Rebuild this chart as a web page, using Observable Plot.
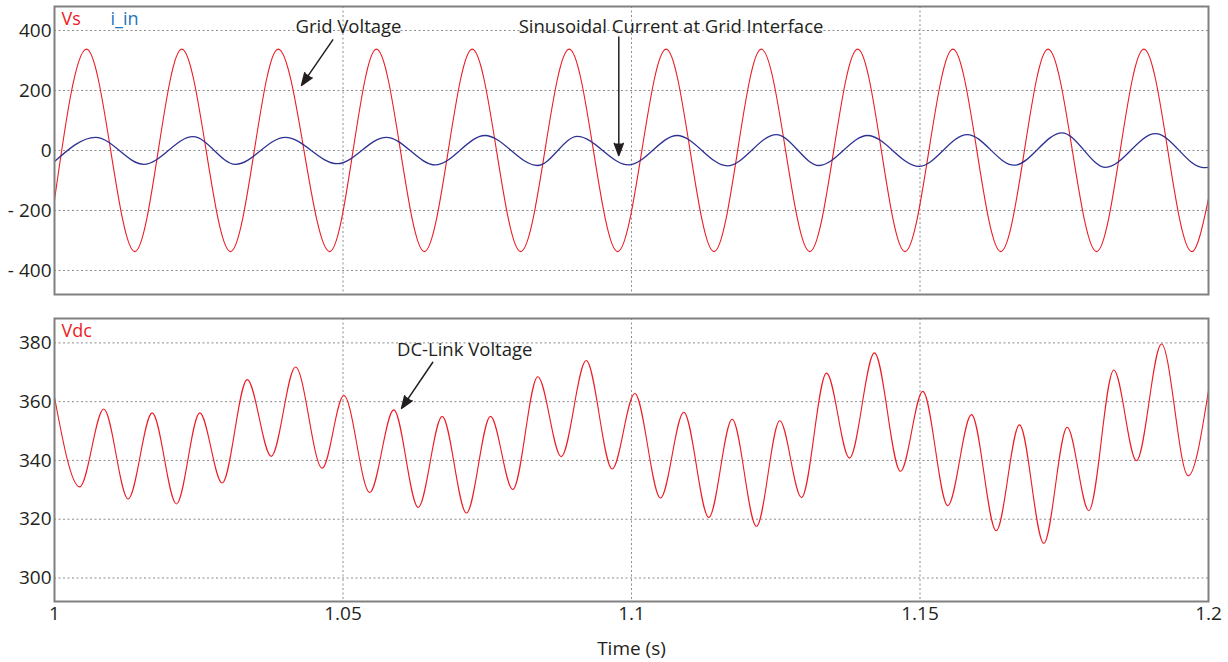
<!DOCTYPE html>
<html>
<head>
<meta charset="utf-8">
<script src="https://cdn.jsdelivr.net/npm/d3@7"></script>
<script src="https://cdn.jsdelivr.net/npm/@observablehq/plot@0.6"></script>
<style>
  html, body { margin: 0; padding: 0; background: #fff; }
  #chart { width: 1228px; height: 662px; }
  #chart svg { display: block; }
</style>
</head>
<body>
<div id="chart"></div>
<script>
// ---- tick values / labels ----
const timeTicks = [1, 1.05, 1.1, 1.15, 1.2];
const timeTickLabels = ["1", "1.05", "1.1", "1.15", "1.2"];
const timeGrid = [1.05, 1.1, 1.15];
const vsTicks = [400, 200, 0, -200, -400];
const vsTickLabels = ["400", "200", "0", "- 200", "- 400"];
const vdcTicks = [380, 360, 340, 320, 300];

// ---- Vs (grid voltage) : extrema ----
const vsTime  = [1.0, 1.00555, 1.01392, 1.02206, 1.0305, 1.03877, 1.0477, 1.0558, 1.0641, 1.0724, 1.0808, 1.0892, 1.0976, 1.106, 1.1143, 1.1225, 1.1309, 1.1392, 1.1474, 1.1557, 1.164, 1.1722, 1.1806, 1.1888, 1.1971, 1.2];
const vsValue = [-165, 338, -337, 338, -337, 338, -337, 338, -337, 338, -337, 338, -337, 338, -337, 338, -337, 338, -337, 338, -337, 338, -337, 338, -337, -160];

// ---- i_in (grid current) ----
const iinTime  = [1.0, 1.0071, 1.01548, 1.024, 1.03137, 1.04, 1.049, 1.0575, 1.066, 1.0746, 1.0837, 1.0906, 1.0995, 1.1079, 1.1166, 1.1251, 1.1325, 1.1409, 1.1498, 1.1582, 1.1663, 1.1746, 1.1822, 1.1908, 1.1991, 1.2];
const iinValue = [-37, 44, -46, 46, -46, 44, -44, 44, -48, 50, -50, 47, -48, 50, -51, 53, -50, 50, -53, 53, -49, 59, -56, 56, -57, -56];

// ---- Vdc (DC-link voltage) ----
const vdcTime  = [1.0, 1.00438, 1.00854, 1.01277, 1.01693, 1.02114, 1.02518, 1.02906, 1.0334, 1.03756, 1.04177, 1.0464, 1.05014, 1.05464, 1.0588, 1.06303, 1.06719, 1.0714, 1.07556, 1.07943, 1.08376, 1.08782, 1.09215, 1.09666, 1.10057, 1.10503, 1.10906, 1.1134, 1.11745, 1.12166, 1.1257, 1.12946, 1.1338, 1.13778, 1.14211, 1.14662, 1.15049, 1.15482, 1.15893, 1.16321, 1.16724, 1.17146, 1.17551, 1.17926, 1.18359, 1.18752, 1.19185, 1.19648, 1.2];
const vdcValue = [361.5, 331.0, 357.5, 326.9, 356.2, 325.2, 356.2, 332.3, 367.5, 341.4, 371.8, 337.4, 362.1, 329.1, 357.2, 324.0, 355.0, 322.1, 355.0, 330.1, 368.5, 341.3, 374.0, 337.1, 362.8, 327.2, 356.4, 320.6, 354.0, 317.6, 353.5, 327.4, 369.7, 340.8, 376.6, 336.3, 363.5, 324.6, 355.6, 316.1, 352.1, 311.8, 351.3, 322.9, 370.8, 339.9, 379.6, 334.8, 363.8];

// ---- annotations (data coordinates) ----
const topNoteText = ["Grid Voltage", "Sinusoidal Current at Grid Interface"];
const topNoteT = [1.05095, 1.10685];
const topNoteV = [410, 410];
const topArrowT1 = [1.04823, 1.0978];
const topArrowV1 = [369, 378];
const topArrowT2 = [1.04281, 1.0978];
const topArrowV2 = [217, -17];

const botNoteText = ["DC-Link Voltage"];
const botNoteT = [1.07109];
const botNoteV = [377.7];
const botArrowT1 = [1.06556];
const botArrowV1 = [373.4];
const botArrowT2 = [1.06014];
const botArrowV2 = [357.7];

// ---- build tables ----
const vs = vsTime.map((t, i) => ({t, v: vsValue[i]}));
const iin = iinTime.map((t, i) => ({t, v: iinValue[i]}));
const vdc = vdcTime.map((t, i) => ({t, v: vdcValue[i]}));
const topNotes = topNoteText.map((s, i) => ({s, t: topNoteT[i], v: topNoteV[i]}));
const topArrows = topArrowT1.map((t1, i) => ({t1, v1: topArrowV1[i], t2: topArrowT2[i], v2: topArrowV2[i]}));
const botNotes = botNoteText.map((s, i) => ({s, t: botNoteT[i], v: botNoteV[i]}));
const botArrows = botArrowT1.map((t1, i) => ({t1, v1: botArrowV1[i], t2: botArrowT2[i], v2: botArrowV2[i]}));

const RED = "#ed1c24", BLUE = "#2e3192", LBLUE = "#1c75bc", INK = "#231f20";
const FONT = "'Open Sans', 'Noto Sans', sans-serif";
const gridStyle = {stroke: "#8c8c8c", strokeOpacity: 1, strokeDasharray: "2,2.5", strokeWidth: 1};

const topChart = Plot.plot({
  width: 1228, height: 300,
  marginTop: 6, marginBottom: 6, marginLeft: 54, marginRight: 20,
  style: {fontFamily: FONT, fontSize: "19px", color: INK, background: "white"},
  x: {domain: [1, 1.2], axis: null},
  y: {domain: [-480, 480]},
  marks: [
    Plot.gridX(timeGrid, gridStyle),
    Plot.gridY(vsTicks, gridStyle),
    Plot.axisY(vsTicks, {tickSize: 0, tickPadding: 3, label: null, tickFormat: (d) => vsTickLabels[vsTicks.indexOf(d)], fill: INK, fontSize: 19}),
    Plot.line(vs, {x: "t", y: "v", stroke: RED, strokeWidth: 1.1, curve: "monotone-x"}),
    Plot.line(iin, {x: "t", y: "v", stroke: BLUE, strokeWidth: 1.3, curve: "monotone-x"}),
    Plot.frame({stroke: "#808080", strokeWidth: 2}),
    Plot.text(["Vs"], {frameAnchor: "top-left", dx: 7, dy: 5.5, fill: RED, fontSize: 18}),
    Plot.text(["i_in"], {frameAnchor: "top-left", dx: 56, dy: 5.5, fill: LBLUE, fontSize: 18}),
    Plot.text(topNotes, {x: "t", y: "v", text: "s", fill: INK, fontSize: 18.5}),
    Plot.arrow(topArrows, {x1: "t1", y1: "v1", x2: "t2", y2: "v2", stroke: INK, fill: INK, strokeWidth: 1.5, headLength: 13, headAngle: 40})
  ]
});

const bottomChart = Plot.plot({
  width: 1228, height: 362,
  marginTop: 18, marginBottom: 61, marginLeft: 54, marginRight: 20,
  style: {fontFamily: FONT, fontSize: "19px", color: INK, background: "white"},
  x: {domain: [1, 1.2]},
  y: {domain: [292, 388.3]},
  marks: [
    Plot.gridX(timeGrid, gridStyle),
    Plot.gridY(vdcTicks, gridStyle),
    Plot.axisY(vdcTicks, {tickSize: 0, tickPadding: 3, label: null, fill: INK, fontSize: 19}),
    Plot.axisX(timeTicks, {tickSize: 0, tickPadding: 5, tickFormat: (d) => timeTickLabels[timeTicks.indexOf(d)], label: "Time (s)", labelAnchor: "center", labelArrow: "none", labelOffset: 53, fill: INK, fontSize: 19}),
    Plot.line(vdc, {x: "t", y: "v", stroke: RED, strokeWidth: 1.1, curve: "monotone-x"}),
    Plot.frame({stroke: "#808080", strokeWidth: 2}),
    Plot.text(["Vdc"], {frameAnchor: "top-left", dx: 7, dy: 5.5, fill: RED, fontSize: 18}),
    Plot.text(botNotes, {x: "t", y: "v", text: "s", fill: INK, fontSize: 18.5}),
    Plot.arrow(botArrows, {x1: "t1", y1: "v1", x2: "t2", y2: "v2", stroke: INK, fill: INK, strokeWidth: 1.5, headLength: 13, headAngle: 40})
  ]
});

const root = document.getElementById("chart");
root.appendChild(topChart);
root.appendChild(bottomChart);
</script>
</body>
</html>
